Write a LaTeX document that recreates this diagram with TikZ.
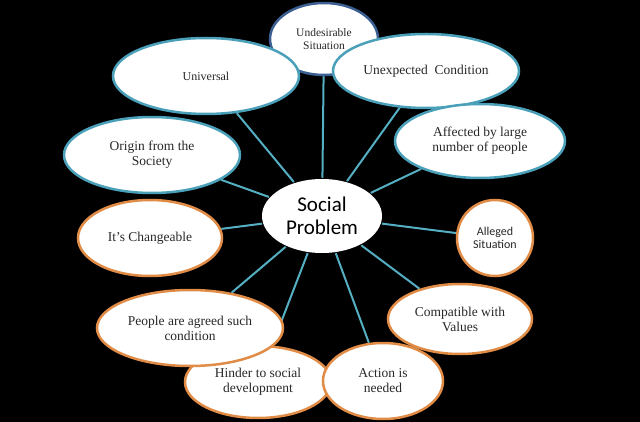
\documentclass[tikz,border=0pt]{standalone}
\usepackage{fontspec}
\setmainfont{Liberation Serif}
\newfontfamily\calib{Carlito}
\usetikzlibrary{shapes.geometric}
\pgfdeclarelayer{back}
\pgfdeclarelayer{links}
\pgfsetlayers{back,links,main}
\definecolor{tealb}{RGB}{75,160,185}
\definecolor{blueb}{RGB}{60,95,145}
\definecolor{orangeb}{RGB}{225,140,70}
\definecolor{linkc}{RGB}{85,175,195}
\definecolor{txt}{RGB}{40,40,40}
\tikzset{
 bubble/.style={ellipse, fill=white, line width=2.5pt, inner sep=0pt, align=center, text=txt, font=\fontsize{13.5}{15}\selectfont},
 bluebub/.style={bubble, draw=tealb},
 orbub/.style={bubble, draw=orangeb},
 link/.style={draw=linkc, line width=2pt},
}
\begin{document}
\begin{tikzpicture}[x=1pt,y=-1pt]
\begin{pgfonlayer}{back}
\fill[black] (0,0) rectangle (640,422);
\end{pgfonlayer}
\useasboundingbox (0,0) rectangle (640,422);
\node[bubble, draw=none, minimum width=120pt, minimum height=74pt, font=\calib\fontsize{21}{23}\selectfont, text=black] (c) at (322,216) {Social\\Problem};
\node[bluebub, draw=blueb, minimum width=108pt, minimum height=72pt, font=\fontsize{11.5}{12.5}\selectfont] (und) at (324,39) {Undesirable\\Situation};
\node[bluebub, minimum width=186pt, minimum height=76pt, font=\fontsize{12}{14}\selectfont] (univ) at (206,76) {Universal};
\node[bluebub, minimum width=186pt, minimum height=74pt] (unexp) at (426,71) {Unexpected \ Condition};
\node[bluebub, minimum width=170pt, minimum height=74pt] (aff) at (480,141) {Affected by large\\number of people};
\node[bluebub, minimum width=176pt, minimum height=76pt] (orig) at (152,155) {Origin from the\\Society};
\node[orbub, minimum width=144pt, minimum height=76pt] (chg) at (150,238) {It’s Changeable};
\node[orbub, minimum width=76pt, minimum height=76pt, font=\calib\fontsize{12}{13}\selectfont] (all) at (495,238) {Alleged\\Situation};
\node[orbub, minimum width=144pt, minimum height=70pt] (comp) at (460,319) {Compatible with\\Values};
\node[orbub, minimum width=146pt, minimum height=72pt] (hind) at (258,382) {Hinder to social\\development};
\node[orbub, minimum width=186pt, minimum height=76pt] (peop) at (190,328) {People are agreed such\\condition};
\node[orbub, minimum width=120pt, minimum height=76pt] (act) at (383,381) {Action is\\needed};
\begin{pgfonlayer}{links}
\foreach \n in {und,univ,unexp,aff,orig,chg,all,comp,hind,peop,act}
  \draw[link] (c) -- (\n);
\end{pgfonlayer}
\end{tikzpicture}
\end{document}
